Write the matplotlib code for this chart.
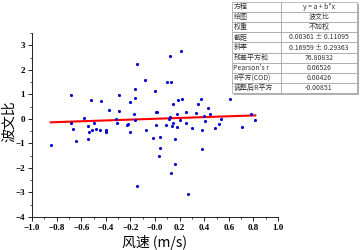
import numpy as np
import matplotlib
matplotlib.use("Agg")
import matplotlib.pyplot as plt
from matplotlib.patches import Rectangle

plt.rcParams['font.family'] = ['Noto Sans CJK SC', 'DejaVu Sans']

# 风速 (m/s) 与 波文比 散点数据
wind = [-0.848, -0.68, -0.68, -0.67, -0.64, -0.58, -0.545, -0.54, -0.545, -0.52,
        -0.50, -0.51, -0.48, -0.445, -0.44, -0.40, -0.40, -0.37, -0.32, -0.31,
        -0.29, -0.29, -0.23, -0.22, -0.20, -0.20, -0.17, -0.165, -0.165, -0.16,
        -0.15, -0.15, -0.08, -0.07, -0.02, 0.0, 0.01, 0.02, 0.01, 0.04,
        0.04, 0.03, 0.09, 0.10, 0.13, 0.12, 0.11, 0.125, 0.14, 0.15,
        0.15, 0.16, 0.16, 0.13, 0.18, 0.18, 0.19, 0.20, 0.21, 0.22,
        0.25, 0.25, 0.27, 0.30, 0.33, 0.35, 0.37, 0.38, 0.385, 0.40,
        0.41, 0.43, 0.45, 0.485, 0.52, 0.535, 0.61, 0.71, 0.78, 0.815]
bowen = [-1.08, 0.96, -0.18, -0.42, -0.89, 0.02, -0.30, -0.55, -0.84, 0.77,
         -0.16, -0.45, -0.41, -0.47, 0.74, -0.47, -0.54, 0.38, -0.01, -0.18,
         0.97, 0.34, -0.23, -0.20, 0.67, -0.53, 0.20, 0.87, 1.20, -0.03,
         2.25, -2.75, 1.58, -0.46, -0.77, 1.12, 0.28, 0.27, -0.23, -0.74,
         -1.17, -1.53, -0.24, 1.52, 1.51, 2.56, -0.01, 0.07, -0.28, -0.16,
         0.61, -0.81, -1.82, -2.21, -0.32, 0.21, 0.77, -0.04, 2.75, 0.81,
         -0.16, 0.28, -3.06, -0.37, 0.23, 0.61, 0.79, -1.22, -0.47, 0.11,
         -0.07, 0.44, 0.19, -0.39, -0.19, 0.0, 0.81, -0.34, 0.20, -0.03]

intercept = 0.00361
slope = 0.16959

row_names = ["方程", "绘图", "权重", "截距", "斜率", "残差平方和",
             "Pearson's r", "R平方(COD)", "调整后R平方"]
row_values = ["y = a + b*x", "波文比", "不加权", "0.00361 ± 0.11095",
              "0.16959 ± 0.29363", "76.80832", "0.06526", "0.00426", "-0.00851"]

fig = plt.figure(figsize=(3.6, 2.5), dpi=100)
ax = fig.add_axes([32/360, 33/250, 246/360, 184/250])

ax.scatter(wind, bowen, s=5, color='#0000CC', zorder=3, linewidths=0)
xl = np.array([min(wind), max(wind)])
ax.plot(xl, intercept + slope * xl, color='#FF0000', lw=1.5, zorder=2)

ax.set_xlim(-1.0, 1.0)
ax.set_ylim(-4, 3.5)
ax.set_xticks(np.arange(-1.0, 1.01, 0.2))
ax.set_xticks(np.arange(-0.9, 1.0, 0.2), minor=True)
ax.set_yticks(np.arange(-4, 4, 1))
ax.set_yticks(np.arange(-3.5, 3.6, 1), minor=True)
ax.set_xticklabels([f"{v:.1f}".replace("-", "−") for v in np.arange(-1.0, 1.01, 0.2)],
                   family='Liberation Serif', fontsize=6.5, fontweight='bold')
ax.set_yticklabels([str(v).replace("-", "−") for v in range(-4, 4)],
                   family='Liberation Serif', fontsize=6.5, fontweight='bold')
ax.tick_params(which='major', length=3, width=0.6, pad=2)
ax.tick_params(which='minor', length=1.5, width=0.5)
for s in ['top', 'right']:
    ax.spines[s].set_visible(False)
for s in ['left', 'bottom']:
    ax.spines[s].set_linewidth(0.6)

ax.set_xlabel("风速 (m/s)", fontsize=10, labelpad=2)
ax.set_ylabel("波文比", fontsize=10)
ax.yaxis.set_label_coords(-0.066, 0.52)

# 拟合结果表格
tx, ty, tw, th = 232/360, (250-93)/250, 125/360, 91/250
fig.patches.append(Rectangle((tx + 2/360, ty - 2/250), tw, th, transform=fig.transFigure,
                             facecolor='#B0B0B0', edgecolor='none', zorder=5))
tax = fig.add_axes([tx, ty, tw, th], zorder=6)
tax.axis('off')
cells = [[n, v] for n, v in zip(row_names, row_values)]
tbl = tax.table(cellText=cells, bbox=[0, 0, 1, 1], colWidths=[0.39, 0.61])
tbl.auto_set_font_size(False)
for (r, c), cell in tbl.get_celld().items():
    cell.set_edgecolor('#A0A0A0')
    cell.set_linewidth(0.5)
    cell.set_facecolor('white')
    cell.get_text().set_fontsize(5)
    cell.get_text().set_color('#333333')
    if c == 0:
        cell.get_text().set_ha('left')
        cell.PAD = 0.03
    else:
        cell.get_text().set_ha('center')

fig.savefig("out.png", dpi=100)
